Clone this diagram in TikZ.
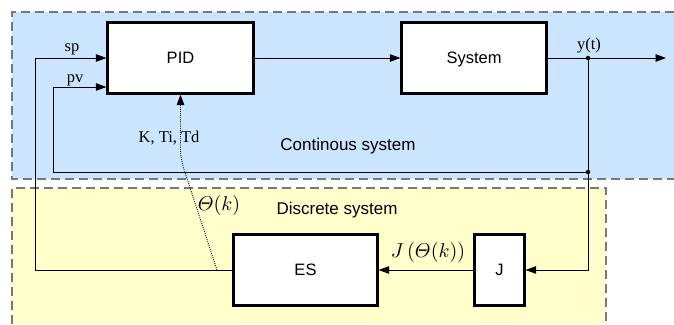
\documentclass[tikz,border=0pt]{standalone}
\usepackage{amsmath}
\usepackage[no-math]{fontspec}
\setmainfont{Liberation Serif}
\setsansfont{Liberation Sans}
\usetikzlibrary{arrows.meta}
\definecolor{contbg}{RGB}{204,229,255}
\definecolor{discbg}{RGB}{255,255,204}
\definecolor{framegray}{RGB}{120,120,120}

\begin{document}
\begin{tikzpicture}[x=1pt,y=-1pt,
  block/.style={draw, line width=2.2pt, fill=white, inner sep=0pt,
    text height=11.8pt, text depth=0pt,
    font=\sffamily\fontsize{16.5}{19}\selectfont},
  tip/.style={-{Triangle[length=10.5pt,width=7.5pt]}},
  conn/.style={line width=0.9pt, tip},
  wire/.style={line width=0.9pt},
  frame/.style={draw=framegray, line width=1.3pt, dash pattern=on 9pt off 5pt},
  sig/.style={anchor=base, inner sep=0pt, font=\fontsize{16.5}{19}\selectfont},
  mlabel/.style={anchor=base, inner sep=0pt, scale=2, font=\fontsize{10}{12}\selectfont},
  region/.style={anchor=base, inner sep=0pt, font=\sffamily\fontsize{17}{20}\selectfont},
  junction/.style={circle, fill=black, inner sep=0pt, minimum size=4.5pt}
]
\useasboundingbox (0,0) rectangle (674,324);

% continuous-time part
\fill[contbg] (12,12) rectangle (674,179);
\draw[frame] (674,12) -- (12,12) -- (12,179) -- (674,179);
% discrete-time part
\fill[discbg] (12,188) rectangle (606,324);
\draw[frame] (12,324) -- (12,188) -- (606,188) -- (606,324);

% blocks
\node[block, minimum width=146pt, minimum height=71pt] (pid) at (180.5,58) {PID};
\node[block, minimum width=145pt, minimum height=71pt] (sys) at (474,58) {System};
\node[block, minimum width=144pt, minimum height=71pt] (es) at (305.5,270) {ES};
\node[block, minimum width=50pt, minimum height=71pt] (j) at (499.5,270) {J};

% junctions and auxiliary points
\node[junction] (yt) at (588,58) {};
\node[junction] (fb) at (588,172) {};
\coordinate (out) at (666,58);
\coordinate (theta) at (217,270);
\coordinate (spx) at (35,270);
\coordinate (pvx) at (53,172);
\coordinate (pvy) at (0,87);

% signal flow
\draw[conn] (pid) -- (sys);
\draw[wire] (sys) -- (yt);
\draw[conn] (yt) -- (out);
\draw[wire] (yt) -- (fb);
\draw[conn] (fb) |- (j.east);
\draw[conn] (j) -- (es);
\draw[conn] (fb) -- (pvx) |- (pid.west |- pvy);
\draw[conn] (es.west) -- (spx) |- (pid.west);
\draw[line width=0.9pt, dash pattern=on 0.9pt off 1.2pt, tip]
  (theta) -- (183.5,168) .. controls (180.5,156) .. (180.5,140) -- (pid.south);

% labels
\node[sig] at (72,51) {sp};
\node[sig] at (75,82) {pv};
\node[sig] at (589,49) {y(t)};
\node[sig] at (169,142) {K, Ti, Td};
\node[mlabel] at (219,210) {$\mathnormal{\Theta}(k)$};
\node[mlabel] at (428,257) {$J\left(\mathnormal{\Theta}(k)\right)$};
\node[region] at (348,150) {Continous system};
\node[region] at (337,214) {Discrete system};
\end{tikzpicture}
\end{document}
